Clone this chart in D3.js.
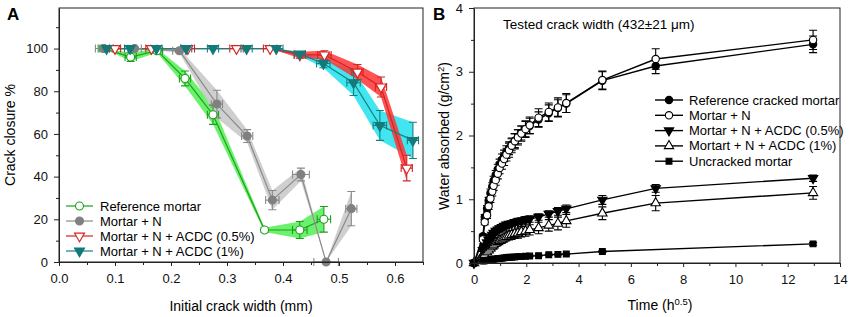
<!DOCTYPE html>
<html>
<head>
<meta charset="utf-8">
<script src="https://cdn.jsdelivr.net/npm/d3@7"></script>
<style>
body { margin: 0; background: #fff; }
svg { font-family: "Liberation Sans", Arial, sans-serif; }
.axis text { font-size: 13px; fill: #111; }
.axis path, .axis line { stroke: #222; }
</style>
</head>
<body>
<svg id="chart" width="850" height="317"></svg>
<script>
// ---- panel A: crack closure vs initial crack width ----
const refX = [0.08, 0.128, 0.175, 0.225, 0.275, 0.367, 0.43, 0.473];
const refY = [100, 96, 99, 86, 69, 15, 15, 20];
const refYErr = [0, 2, 1, 3.5, 4.5, 1, 4, 6];
const refXErr = [0.01, 0.01, 0.01, 0.01, 0.01, 0, 0.013, 0.012];

const nX = [0.08, 0.135, 0.215, 0.282, 0.336, 0.381, 0.432, 0.477, 0.522];
const nY = [100, 100, 99, 74, 59, 29, 41, 0, 25];
const nYErr = [0, 0, 1, 6.5, 3, 4.5, 3, 0, 8];
const nXErr = [0.015, 0.012, 0.012, 0.01, 0.01, 0.012, 0.015, 0.022, 0.01];

const acdc05X = [0.1, 0.165, 0.23, 0.317, 0.377, 0.43, 0.474, 0.533, 0.575, 0.621];
const acdc05Y = [100, 100, 100, 100, 100, 97, 97, 89, 82, 44];
const acdc05YErr = [0, 0, 0, 0, 0, 1.5, 2, 3.5, 4.7, 6];
const acdc05XErr = [0.01, 0.01, 0.012, 0.012, 0.012, 0.01, 0.012, 0.01, 0.01, 0.01];

const acdc1X = [0.085, 0.127, 0.174, 0.227, 0.275, 0.335, 0.388, 0.43, 0.472, 0.526, 0.573, 0.632];
const acdc1Y = [100, 100, 100, 100, 100, 100, 100, 97.5, 93, 84, 64, 57];
const acdc1YErr = [0, 0, 0, 0, 0, 0, 0, 1, 2, 6, 7, 8.5];
const acdc1XErr = [0.012, 0.01, 0.01, 0.01, 0.01, 0.01, 0.012, 0.01, 0.012, 0.012, 0.012, 0.01];

const xTicksA = [0, 0.1, 0.2, 0.3, 0.4, 0.5, 0.6];
const xMinorA = [0.05, 0.15, 0.25, 0.35, 0.45, 0.55, 0.65];
const yTicksA = [0, 20, 40, 60, 80, 100];
const yMinorA = [10, 30, 50, 70, 90, 110];

// ---- panel B: water absorbed vs sqrt time ----
const timeB = [0, 0.34, 0.41, 0.5, 0.56, 0.63, 0.70, 0.75, 0.83, 0.91, 0.98, 1.07, 1.15, 1.24,
    1.34, 1.44, 1.56, 1.68, 1.81, 1.97, 2.13, 2.47, 2.86, 3.21, 3.53, 4.91, 6.95, 12.97];
const refCracked = [0, 0.42, 0.72, 0.85, 0.98, 1.10, 1.20, 1.29, 1.38, 1.47, 1.55, 1.62, 1.68, 1.74,
    1.80, 1.86, 1.92, 1.98, 2.04, 2.10, 2.15, 2.25, 2.35, 2.43, 2.50, 2.86, 3.09, 3.43];
const refCrackedErr = [0, 0.03, 0.04, 0.05, 0.05, 0.06, 0.06, 0.07, 0.07, 0.08, 0.08, 0.09, 0.09, 0.1,
    0.1, 0.1, 0.11, 0.11, 0.11, 0.12, 0.12, 0.12, 0.13, 0.13, 0.14, 0.14, 0.12, 0.13];
const mortarN = [0, 0.37, 0.64, 0.75, 0.89, 1.01, 1.12, 1.21, 1.30, 1.40, 1.49, 1.56, 1.63, 1.70,
    1.77, 1.84, 1.91, 1.97, 2.03, 2.10, 2.16, 2.28, 2.37, 2.44, 2.51, 2.87, 3.2, 3.5];
const mortarNErr = [0, 0.03, 0.04, 0.05, 0.05, 0.06, 0.07, 0.07, 0.08, 0.08, 0.09, 0.09, 0.1, 0.1,
    0.11, 0.11, 0.12, 0.12, 0.12, 0.13, 0.13, 0.14, 0.14, 0.15, 0.15, 0.14, 0.16, 0.15];
const acdc05B = [0, 0.2, 0.26, 0.32, 0.36, 0.41, 0.44, 0.47, 0.5, 0.52, 0.54, 0.56, 0.58, 0.6,
    0.61, 0.62, 0.64, 0.65, 0.66, 0.68, 0.69, 0.72, 0.77, 0.81, 0.85, 0.99, 1.17, 1.33];
const acdc05BErr = [0, 0.02, 0.02, 0.02, 0.03, 0.03, 0.03, 0.03, 0.03, 0.03, 0.04, 0.04, 0.04, 0.04,
    0.04, 0.04, 0.04, 0.05, 0.05, 0.05, 0.05, 0.05, 0.05, 0.06, 0.06, 0.07, 0.06, 0.05];
const acdc1B = [0, 0.1, 0.13, 0.17, 0.2, 0.23, 0.26, 0.28, 0.31, 0.33, 0.35, 0.37, 0.39, 0.41,
    0.43, 0.44, 0.46, 0.47, 0.49, 0.5, 0.52, 0.55, 0.59, 0.62, 0.66, 0.78, 0.94, 1.1];
const acdc1BErr = [0, 0.02, 0.03, 0.03, 0.03, 0.04, 0.04, 0.04, 0.05, 0.05, 0.05, 0.06, 0.06, 0.06,
    0.07, 0.07, 0.07, 0.08, 0.08, 0.08, 0.08, 0.09, 0.09, 0.1, 0.1, 0.1, 0.12, 0.1];
const uncracked = [0, 0.03, 0.035, 0.04, 0.045, 0.05, 0.055, 0.06, 0.065, 0.07, 0.07, 0.075, 0.08, 0.085,
    0.09, 0.09, 0.095, 0.1, 0.1, 0.105, 0.11, 0.115, 0.13, 0.135, 0.14, 0.18, null, 0.3];
const uncrackedErr = [0, 0.005, 0.005, 0.005, 0.005, 0.01, 0.01, 0.01, 0.01, 0.01, 0.01, 0.01, 0.01, 0.01,
    0.01, 0.01, 0.01, 0.01, 0.01, 0.01, 0.01, 0.01, 0.01, 0.01, 0.01, 0.015, null, 0.02];

const xTicksB = [0, 2, 4, 6, 8, 10, 12, 14];
const xMinorB = [1, 3, 5, 7, 9, 11, 13];
const yTicksB = [0, 1, 2, 3, 4];
const yMinorB = [0.5, 1.5, 2.5, 3.5];

const svg = d3.select('#chart');

function zip(xs, ys, ye, xe) {
    return xs.map((x, i) => ({ x: x, y: ys[i], ye: ye ? ye[i] : 0, xe: xe ? xe[i] : 0 }))
        .filter(d => d.y !== null);
}

function symbolPath(type, size) {
    return d3.symbol().type(type).size(size)();
}

function drawAxes(g, x, y, o) {
    g.append('g').attr('class', 'axis')
        .attr('transform', `translate(0,${y.range()[0]})`)
        .call(d3.axisBottom(x).tickValues(o.xTicks).tickFormat(o.xFmt).tickSize(4).tickSizeOuter(0).tickPadding(8));
    g.append('g').attr('class', 'axis')
        .attr('transform', `translate(0,${y.range()[0]})`)
        .call(d3.axisBottom(x).tickValues(o.xMinor).tickFormat('').tickSize(3).tickSizeOuter(0))
        .select('.domain').remove();
    g.append('g').attr('class', 'axis')
        .attr('transform', `translate(${x.range()[0]},0)`)
        .call(d3.axisLeft(y).tickValues(o.yTicks).tickFormat(o.yFmt).tickSize(5).tickSizeOuter(0).tickPadding(6));
    g.append('g').attr('class', 'axis')
        .attr('transform', `translate(${x.range()[0]},0)`)
        .call(d3.axisLeft(y).tickValues(o.yMinor).tickFormat('').tickSize(3).tickSizeOuter(0))
        .select('.domain').remove();
    g.append('rect')
        .attr('x', x.range()[0]).attr('y', y.range()[1])
        .attr('width', x.range()[1] - x.range()[0])
        .attr('height', y.range()[0] - y.range()[1])
        .attr('fill', 'none').attr('stroke', '#222');
}

function errorBars(g, data, x, y, color, cap) {
    data.forEach(d => {
        if (d.ye > 0) {
            g.append('path')
                .attr('d', `M${x(d.x)},${y(d.y - d.ye)}V${y(d.y + d.ye)}` +
                    `M${x(d.x) - cap},${y(d.y - d.ye)}h${2 * cap}M${x(d.x) - cap},${y(d.y + d.ye)}h${2 * cap}`)
                .attr('stroke', color).attr('fill', 'none').attr('stroke-width', 1.1);
        }
        if (d.xe > 0) {
            g.append('path')
                .attr('d', `M${x(d.x - d.xe)},${y(d.y)}H${x(d.x + d.xe)}` +
                    `M${x(d.x - d.xe)},${y(d.y) - cap}v${2 * cap}M${x(d.x + d.xe)},${y(d.y) - cap}v${2 * cap}`)
                .attr('stroke', color).attr('fill', 'none').attr('stroke-width', 1.1);
        }
    });
}

function markers(g, data, x, y, s) {
    g.selectAll(null).data(data).enter().append('path')
        .attr('d', symbolPath(s.type, s.size))
        .attr('transform', d => `translate(${x(d.x)},${y(d.y)})${s.down ? ' rotate(180)' : ''}`)
        .attr('fill', s.fill).attr('stroke', s.stroke).attr('stroke-width', 1.1);
}

// ================= panel A =================
const xA = d3.scaleLinear().domain([0, 0.65]).range([59, 423]);
const yA = d3.scaleLinear().domain([0, 119]).range([262, 8]);

const seriesA = [
    { name: 'Reference mortar', data: zip(refX, refY, refYErr, refXErr), line: '#1f9d1f', band: '#5cf05c',
      bandOp: 0.9, sym: { type: d3.symbolCircle, size: 50, fill: '#fff', stroke: '#1f9d1f' } },
    { name: 'Mortar + N', data: zip(nX, nY, nYErr, nXErr), line: '#8a8a8a', band: '#cacaca',
      bandOp: 0.9, sym: { type: d3.symbolCircle, size: 50, fill: '#808080', stroke: '#808080' } },
    { name: 'Mortar + N + ACDC (0.5%)', data: zip(acdc05X, acdc05Y, acdc05YErr, acdc05XErr), line: '#d42424', band: '#ff3434',
      bandOp: 0.85, sym: { type: d3.symbolTriangle, size: 44, down: true, fill: '#fff', stroke: '#d42424' } },
    { name: 'Mortar + N + ACDC (1%)', data: zip(acdc1X, acdc1Y, acdc1YErr, acdc1XErr), line: '#17807f', band: '#2ee3ee',
      bandOp: 0.9, sym: { type: d3.symbolTriangle, size: 44, down: true, fill: '#137a7a', stroke: '#137a7a' } }
];

const gA = svg.append('g');
const bandA = d3.area().x(d => xA(d.x)).y0(d => yA(d.y - d.ye)).y1(d => yA(d.y + d.ye));
const lineA = d3.line().x(d => xA(d.x)).y(d => yA(d.y));

[0, 1, 3, 2].forEach(i => {
    const s = seriesA[i];
    gA.append('path').attr('d', bandA(s.data)).attr('fill', s.band).attr('opacity', s.bandOp);
});
seriesA.forEach(s => {
    gA.append('path').attr('d', lineA(s.data)).attr('fill', 'none').attr('stroke', s.line).attr('stroke-width', 1.2);
});
seriesA.forEach(s => errorBars(gA, s.data, xA, yA, s.line, 4));
seriesA.forEach(s => markers(gA, s.data, xA, yA, s.sym));

drawAxes(gA, xA, yA, { xTicks: xTicksA, xMinor: xMinorA, yTicks: yTicksA, yMinor: yMinorA,
    xFmt: d3.format('.1f'), yFmt: d3.format('d') });

gA.append('text').attr('x', 7).attr('y', 20).attr('font-size', 17).attr('font-weight', 'bold').text('A');
gA.append('text').attr('transform', 'translate(15,135) rotate(-90)').attr('text-anchor', 'middle')
    .attr('font-size', 14).text('Crack closure %');
gA.append('text').attr('x', 241).attr('y', 311).attr('text-anchor', 'middle')
    .attr('font-size', 14).text('Initial crack width (mm)');

const legA = gA.append('g');
seriesA.forEach((s, i) => {
    const ly = 206 + i * 15;
    legA.append('line').attr('x1', 66).attr('x2', 93).attr('y1', ly).attr('y2', ly)
        .attr('stroke', s.line).attr('stroke-width', 1.2);
    legA.append('path').attr('d', symbolPath(s.sym.type, s.sym.size))
        .attr('transform', `translate(79.5,${ly})${s.sym.down ? ' rotate(180)' : ''}`)
        .attr('fill', s.sym.fill).attr('stroke', s.sym.stroke).attr('stroke-width', 1.1);
    legA.append('text').attr('x', 100).attr('y', ly + 4.5).attr('font-size', 13).text(s.name);
});

// ================= panel B =================
const xB = d3.scaleLinear().domain([0, 14]).range([474, 840]);
const yB = d3.scaleLinear().domain([0, 4]).range([263, 8]);

const seriesB = [
    { name: 'Reference cracked mortar', data: zip(timeB, refCracked, refCrackedErr),
      sym: { type: d3.symbolCircle, size: 42, fill: '#000', stroke: '#000' } },
    { name: 'Mortar + N', data: zip(timeB, mortarN, mortarNErr),
      sym: { type: d3.symbolCircle, size: 42, fill: '#fff', stroke: '#000' } },
    { name: 'Mortar + N + ACDC (0.5%)', data: zip(timeB, acdc05B, acdc05BErr),
      sym: { type: d3.symbolTriangle, size: 38, down: true, fill: '#000', stroke: '#000' } },
    { name: 'Mortart + N + ACDC (1%)', data: zip(timeB, acdc1B, acdc1BErr),
      sym: { type: d3.symbolTriangle, size: 38, fill: '#fff', stroke: '#000' } },
    { name: 'Uncracked mortar', data: zip(timeB, uncracked, uncrackedErr),
      sym: { type: d3.symbolSquare, size: 34, fill: '#000', stroke: '#000' } }
];

const gB = svg.append('g');
const lineB = d3.line().x(d => xB(d.x)).y(d => yB(d.y));
seriesB.forEach(s => {
    gB.append('path').attr('d', lineB(s.data)).attr('fill', 'none').attr('stroke', '#000').attr('stroke-width', 1.4);
});
seriesB.forEach(s => errorBars(gB, s.data, xB, yB, '#000', 4));
seriesB.forEach(s => markers(gB, s.data, xB, yB, s.sym));

drawAxes(gB, xB, yB, { xTicks: xTicksB, xMinor: xMinorB, yTicks: yTicksB, yMinor: yMinorB,
    xFmt: d3.format('d'), yFmt: d3.format('d') });

gB.append('text').attr('x', 433).attr('y', 20).attr('font-size', 17).attr('font-weight', 'bold').text('B');
const yTitleB = gB.append('text').attr('transform', 'translate(449,136) rotate(-90)')
    .attr('text-anchor', 'middle').attr('font-size', 14);
yTitleB.append('tspan').text('Water absorbed (g/cm');
yTitleB.append('tspan').attr('font-size', 9.5).attr('dy', -5).text('2');
yTitleB.append('tspan').attr('dy', 5).text(')');

const xTitleB = gB.append('text').attr('x', 660).attr('y', 310).attr('text-anchor', 'middle').attr('font-size', 14);
xTitleB.append('tspan').text('Time (h');
xTitleB.append('tspan').attr('font-size', 9.5).attr('dy', -5).text('0.5');
xTitleB.append('tspan').attr('dy', 5).text(')');

gB.append('text').attr('x', 503).attr('y', 29).attr('font-size', 13.5).text('Tested crack width (432±21 μm)');

const legB = gB.append('g');
seriesB.forEach((s, i) => {
    const ly = 100 + i * 15.3;
    legB.append('line').attr('x1', 655).attr('x2', 683).attr('y1', ly).attr('y2', ly)
        .attr('stroke', '#000').attr('stroke-width', 1.4);
    legB.append('path').attr('d', symbolPath(s.sym.type, s.sym.size))
        .attr('transform', `translate(669,${ly})${s.sym.down ? ' rotate(180)' : ''}`)
        .attr('fill', s.sym.fill).attr('stroke', s.sym.stroke).attr('stroke-width', 1.1);
    legB.append('text').attr('x', 689).attr('y', ly + 4.5).attr('font-size', 13).text(s.name);
});
</script>
</body>
</html>
